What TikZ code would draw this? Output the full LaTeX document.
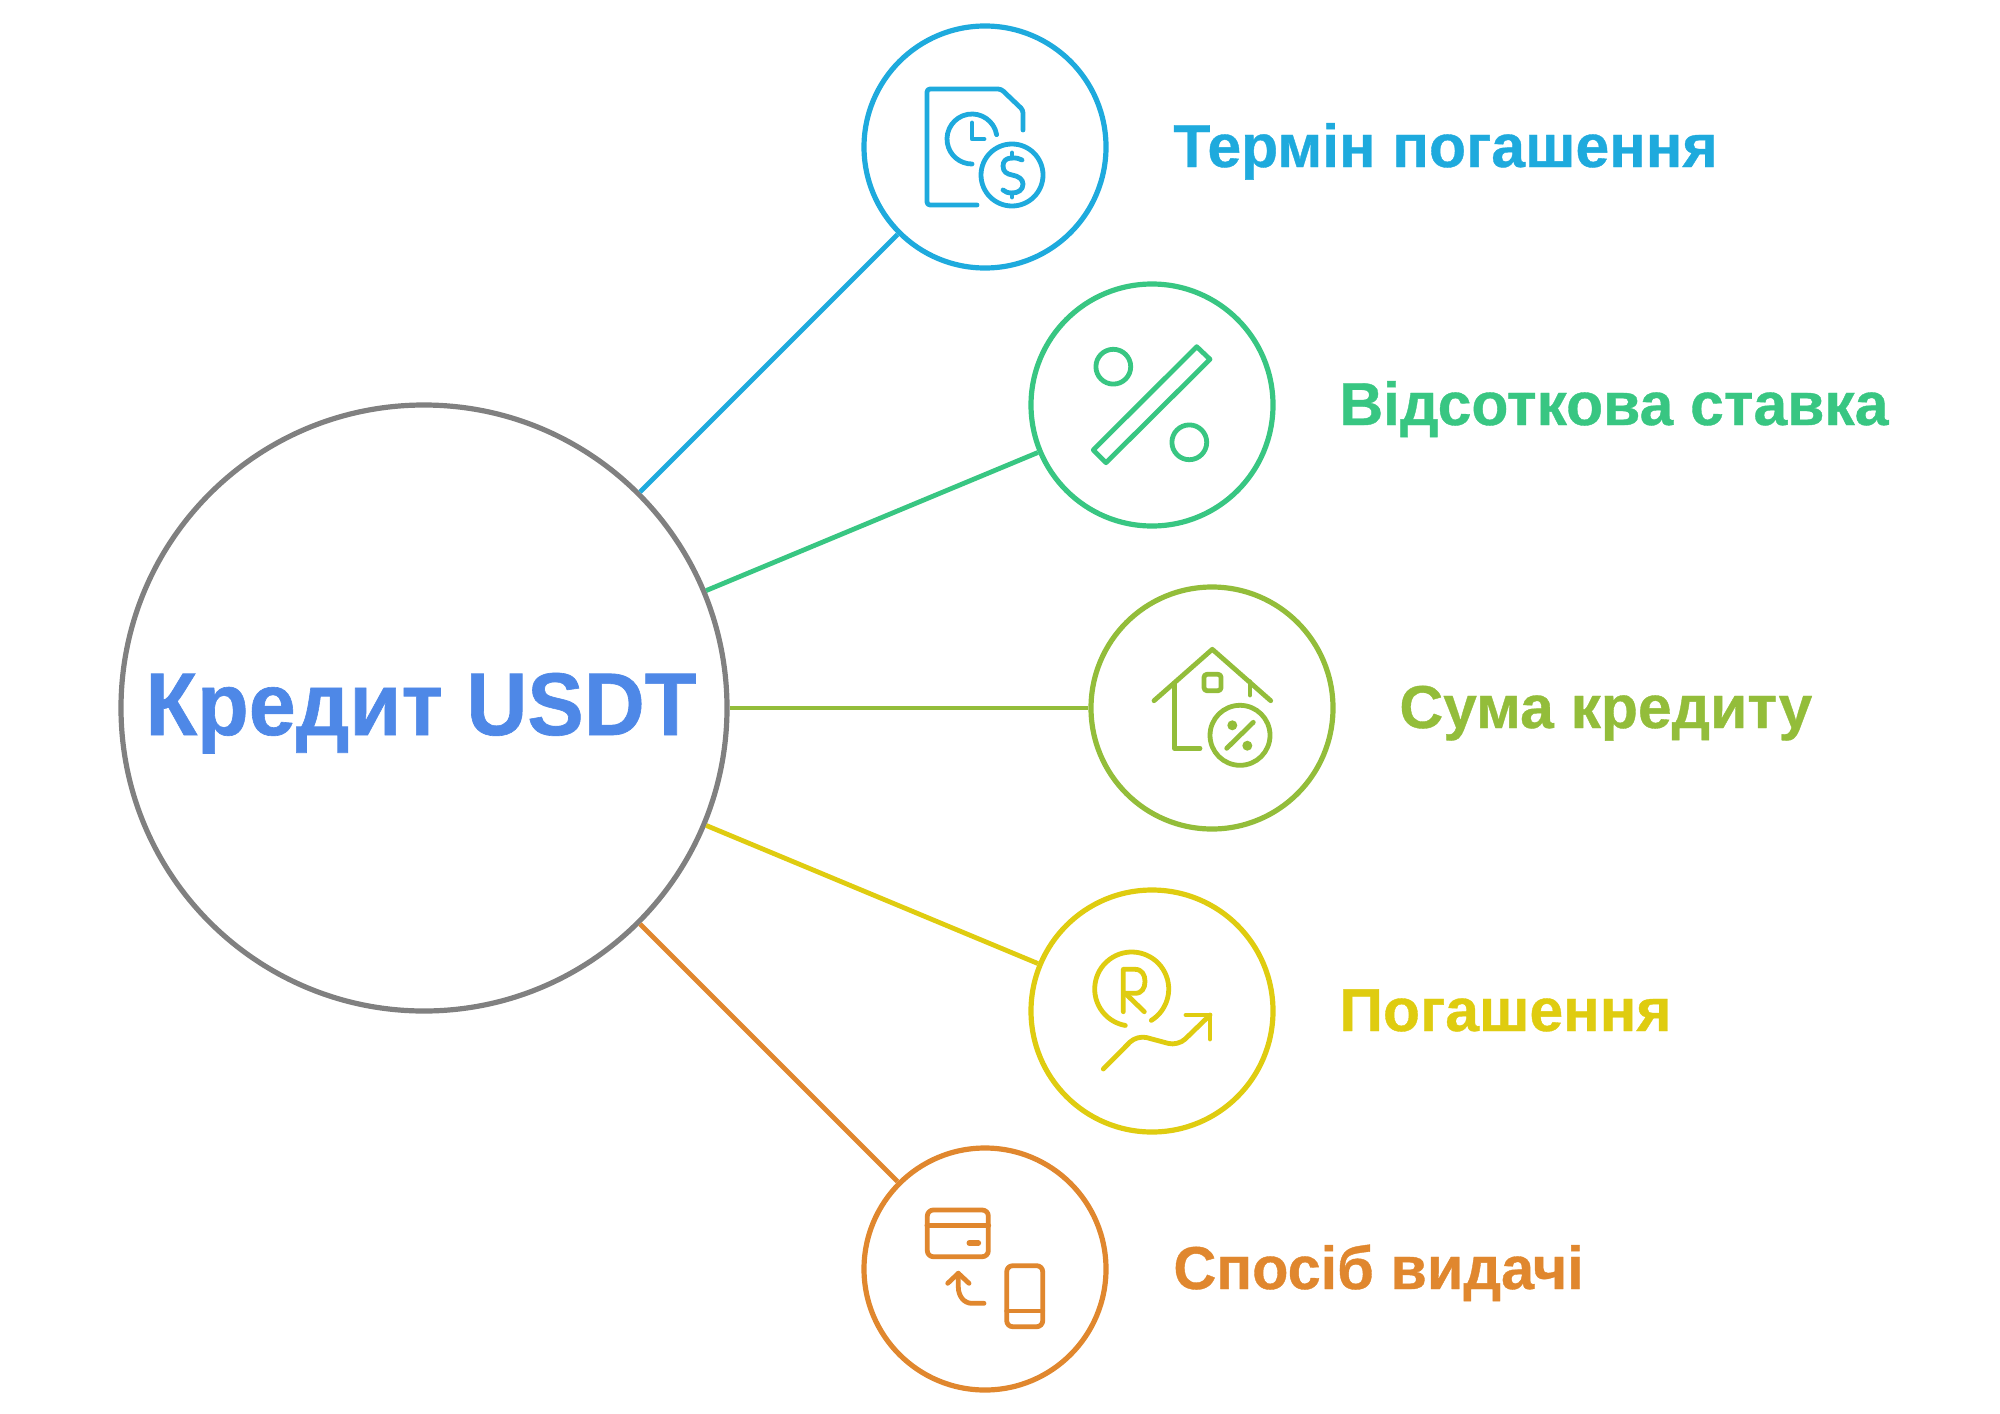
\documentclass[tikz,border=0pt]{standalone}
\usepackage{fontspec}
\setmainfont[BoldFeatures={FakeBold=0.6}]{Liberation Sans}
\newfontfamily\hubfont[FakeStretch=0.95, BoldFeatures={FakeBold=0.7}]{Liberation Sans}
\newfontfamily\issuefont[FakeStretch=0.98, BoldFeatures={FakeBold=0.6}]{Liberation Sans}
\definecolor{termblue}{HTML}{1EAADD}
\definecolor{rategreen}{HTML}{38C682}
\definecolor{sumolive}{HTML}{93BD3A}
\definecolor{payyellow}{HTML}{DFCC10}
\definecolor{issueorange}{HTML}{E0872E}
\definecolor{hubgrey}{HTML}{808080}
\definecolor{hubblue}{HTML}{4E88E7}
\tikzset{
    topic/.style={circle, draw, line width=2.6pt, minimum size=121pt, inner sep=0pt, fill=white},
    hub/.style={circle, draw=hubgrey, line width=2.6pt, minimum size=303pt, inner sep=0pt},
    topiclabel/.style={anchor=base west, inner sep=0pt, font=\fontsize{30.3}{36}\selectfont\bfseries},
    icon/.style={line width=2.4pt, line cap=round, line join=round},
    link/.style={line width=2.4pt}
}
\begin{document}
\begin{tikzpicture}[x=0.5pt, y=0.5pt]
    \useasboundingbox (0,0) rectangle (2000,-1413);

    % Hub and topic circles
    \node[hub] (hub) at (424,-708) {};
    \node[anchor=base, inner sep=0pt, text=hubblue, font=\hubfont\fontsize{44.5}{50}\selectfont\bfseries] (hubtext) at (421,-735) {Кредит USDT};
    \node[topic, draw=termblue] (term) at (985,-147) {};
    \node[topic, draw=rategreen] (rate) at (1152,-405) {};
    \node[topic, draw=sumolive] (sum) at (1212,-708) {};
    \node[topic, draw=payyellow] (pay) at (1152,-1011) {};
    \node[topic, draw=issueorange] (issue) at (985,-1269) {};

    % Connectors
    \draw[link, termblue] (hub) -- (term);
    \draw[link, rategreen] (hub) -- (rate);
    \draw[link, sumolive] (hub) -- (sum);
    \draw[link, payyellow] (hub) -- (pay);
    \draw[link, issueorange] (hub) -- (issue);

    % Labels
    \node[topiclabel, text=termblue] (termlabel) at (1173,-167) {Термін погашення};
    \node[topiclabel, text=rategreen] (ratelabel) at (1339,-425) {Відсоткова ставка};
    \node[topiclabel, text=sumolive] (sumlabel) at (1399,-728) {Сума кредиту};
    \node[topiclabel, text=payyellow] (paylabel) at (1339,-1031) {Погашення};
    \node[topiclabel, text=issueorange, font=\issuefont\fontsize{30.3}{36}\selectfont\bfseries] (issuelabel) at (1173,-1289) {Спосіб видачі};

    % Term icon
    \begin{scope}[shift={(985,-147)}, icon, termblue]
        \draw[rounded corners=1.5pt] (-8,-58) -- (-58,-58) -- (-58,58) -- (16,58) -- (38,37) -- (38,17);
        \draw (-13,8) ++(10:25) arc[start angle=10, end angle=270, radius=12.5pt];
        \draw (-13,24) -- (-13,8) -- (-1,8);
        \draw (27,-28) circle (15.5pt);
        \draw (37,-13) .. controls (34,-11) and (31,-11) .. (27,-11)
            .. controls (21,-11) and (18,-14) .. (18,-19)
            .. controls (18,-25) and (22,-27) .. (27,-28)
            .. controls (33,-29) and (38,-32) .. (38,-37)
            .. controls (38,-43) and (33,-46) .. (27,-46)
            .. controls (23,-46) and (20,-45) .. (18,-43);
        \draw (27,-6) -- (27,-11);
        \draw (27,-46) -- (27,-50);
    \end{scope}

    % Rate icon
    \begin{scope}[shift={(1152,-405)}, icon, rategreen]
        \draw (44.7,58.3) -- (58,45.7) -- (-46,-57.7) -- (-58.7,-45) -- cycle;
        \draw (-38.7,38.3) circle (8.7pt);
        \draw (37.3,-37.3) circle (8.7pt);
    \end{scope}

    % Sum icon
    \begin{scope}[shift={(1212,-708)}, icon, sumolive]
        \draw (-58,7.3) -- (0.3,58.7) -- (58.7,7.3);
        \draw (-37.7,24.7) -- (-37.7,-40.3) -- (-12,-40.3);
        \draw[rounded corners=1.5pt] (-8,33.7) rectangle (9,17.3);
        \draw (38,26.3) -- (38,13);
        \draw (28,-27.3) circle (15pt);
        \draw (41.3,-14.3) -- (14.7,-40.3);
        \fill (20.3,-17.3) circle (2.5pt);
        \fill (35.3,-37.7) circle (2.5pt);
    \end{scope}

    % Repayment icon
    \begin{scope}[shift={(1152,-1011)}, icon, payyellow]
        \draw (-20.3,22) ++(-58:37) arc[start angle=-58, end angle=260, radius=18.5pt];
        \draw (-28.7,-0.7) -- (-28.7,41.7) -- (-17,41.7) .. controls (-10,41.7) and (-7,36) .. (-7,29.7)
            .. controls (-7,23) and (-10,17.7) .. (-17,17.7) -- (-28.7,17.7);
        \draw (-25,16) -- (-7.7,-0.7);
        \draw[rounded corners=5pt] (-48.7,-58) -- (-15,-24) -- (26,-35) -- (58,-4);
        \draw (34,-4) -- (58,-4) -- (58,-28);
    \end{scope}

    % Issue icon
    \begin{scope}[shift={(985,-1269)}, icon, issueorange]
        \draw[rounded corners=3pt] (-57.7,59) rectangle (3.3,12.3);
        \draw[line width=2.8pt] (-57.7,43.7) -- (3.3,43.7);
        \draw[line width=2.8pt] (-15.7,26) -- (-6.7,26);
        \draw[rounded corners=3pt] (21.7,3.3) rectangle (57.7,-57.7);
        \draw (21.7,-42) -- (57.7,-42);
        \draw (-1,-34.3) -- (-13.3,-34.3) .. controls (-21,-34.3) and (-26.7,-27) .. (-26.7,-18) -- (-26.7,-4.3);
        \draw (-37.3,-14.3) -- (-26.7,-4.3) -- (-16,-14.3);
    \end{scope}

\end{tikzpicture}
\end{document}
